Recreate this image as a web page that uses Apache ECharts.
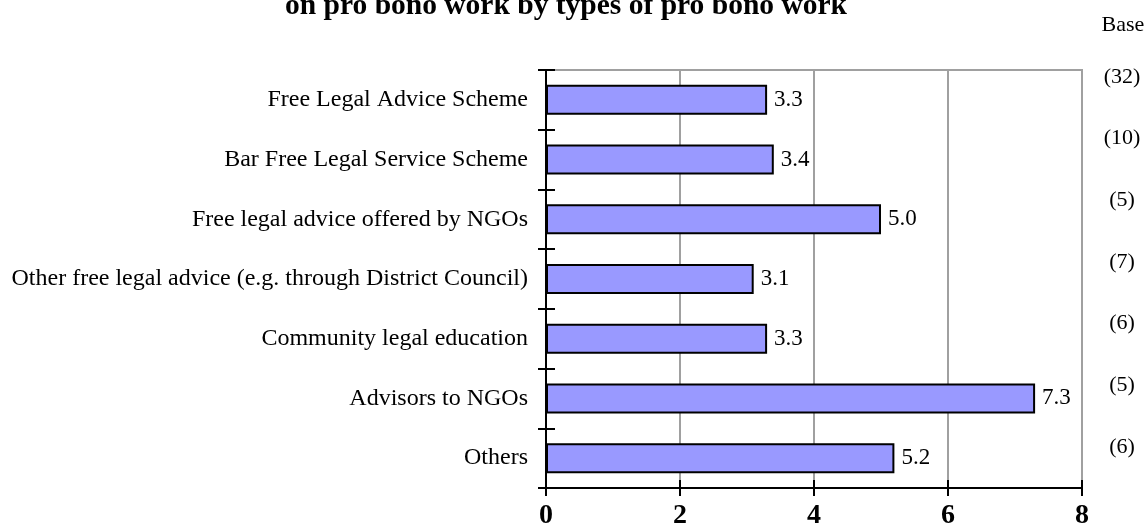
<!DOCTYPE html>
<html>
<head>
<meta charset="utf-8">
<style>
  html, body { margin: 0; padding: 0; background: #fff; }
  #chart { width: 1148px; height: 530px; }
</style>
<script src="https://cdn.jsdelivr.net/npm/echarts@6/dist/echarts.min.js"></script>
</head>
<body>
<div id="chart"></div>
<script>
// Types of pro bono work (top to bottom)
const categories = [
  'Free Legal Advice Scheme',
  'Bar Free Legal Service Scheme',
  'Free legal advice offered by NGOs',
  'Other free legal advice (e.g. through District Council)',
  'Community legal education',
  'Advisors to NGOs',
  'Others'
];
// Average hours per type
const values = [3.3, 3.4, 5.0, 3.1, 3.3, 7.3, 5.2];
// Number of respondents behind each average
const bases = ['(32)', '(10)', '(5)', '(7)', '(6)', '(5)', '(6)'];
const titleText = 'on pro bono work by types of pro bono work';
const baseHeader = 'Base';
const xMin = 0, xMax = 8, xStep = 2;

const serif = "'Liberation Serif', 'Times New Roman', serif";
const chart = echarts.init(document.getElementById('chart'), null, { renderer: 'canvas' });

chart.setOption({
  animation: false,
  backgroundColor: '#ffffff',
  graphic: [
    { type: 'text', x: 566, y: 6, style: { text: titleText, font: 'bold 29.5px ' + serif, fill: '#000', textAlign: 'center', textVerticalAlign: 'middle' } },
    { type: 'text', x: 1123, y: 25, style: { text: baseHeader, font: '22px ' + serif, fill: '#000', textAlign: 'center', textVerticalAlign: 'middle' } }
  ],
  grid: [
    { left: 546, right: 66, top: 70, bottom: 39, show: true, borderColor: '#a0a0a0', borderWidth: 2, backgroundColor: 'transparent' },
    { left: 1122, width: 1, top: 46, height: 432 }
  ],
  xAxis: [
    {
      type: 'value', gridIndex: 0, position: 'bottom', min: xMin, max: xMax, interval: xStep,
      axisLine: { show: true, lineStyle: { color: '#000', width: 2 } },
      axisTick: { show: true, inside: false, length: 8, lineStyle: { color: '#000', width: 2 } },
      axisLabel: { margin: 14, color: '#000', fontFamily: serif, fontSize: 28, fontWeight: 'bold' },
      splitLine: { show: true, lineStyle: { color: '#a0a0a0', width: 2 } }
    },
    {
      type: 'value', gridIndex: 0, position: 'bottom', min: xMin, max: xMax, interval: xStep,
      axisLine: { show: false },
      axisTick: { show: true, inside: true, length: 8, lineStyle: { color: '#000', width: 2 } },
      axisLabel: { show: false }, splitLine: { show: false }
    },
    { type: 'value', gridIndex: 1, show: false, min: 0, max: 1 }
  ],
  yAxis: [
    {
      type: 'category', gridIndex: 0, position: 'left', inverse: true, data: categories,
      axisLine: { show: true, lineStyle: { color: '#000', width: 2 } },
      axisTick: { show: true, inside: false, length: 8, alignWithLabel: false, lineStyle: { color: '#000', width: 2 } },
      axisLabel: { margin: 18, color: '#000', fontFamily: serif, fontSize: 24 },
      splitLine: { show: false }
    },
    {
      type: 'category', gridIndex: 0, position: 'left', inverse: true, data: categories,
      axisLine: { show: false },
      axisTick: { show: true, inside: true, length: 9, alignWithLabel: false, lineStyle: { color: '#000', width: 2 } },
      axisLabel: { show: false }, splitLine: { show: false }
    },
    {
      type: 'category', gridIndex: 1, position: 'left', inverse: true, data: bases,
      axisLine: { show: false }, axisTick: { show: false }, splitLine: { show: false },
      axisLabel: { margin: 0, align: 'center', color: '#000', fontFamily: serif, fontSize: 22 }
    }
  ],
  series: [
    {
      type: 'bar', xAxisIndex: 0, yAxisIndex: 0, data: values, barWidth: 30,
      itemStyle: { color: '#9999ff', borderColor: '#000', borderWidth: 2 },
      label: {
        show: true, position: 'right', distance: 7, color: '#000',
        fontFamily: serif, fontSize: 23,
        formatter: p => p.value.toFixed(1)
      }
    }
  ]
});
</script>
</body>
</html>
